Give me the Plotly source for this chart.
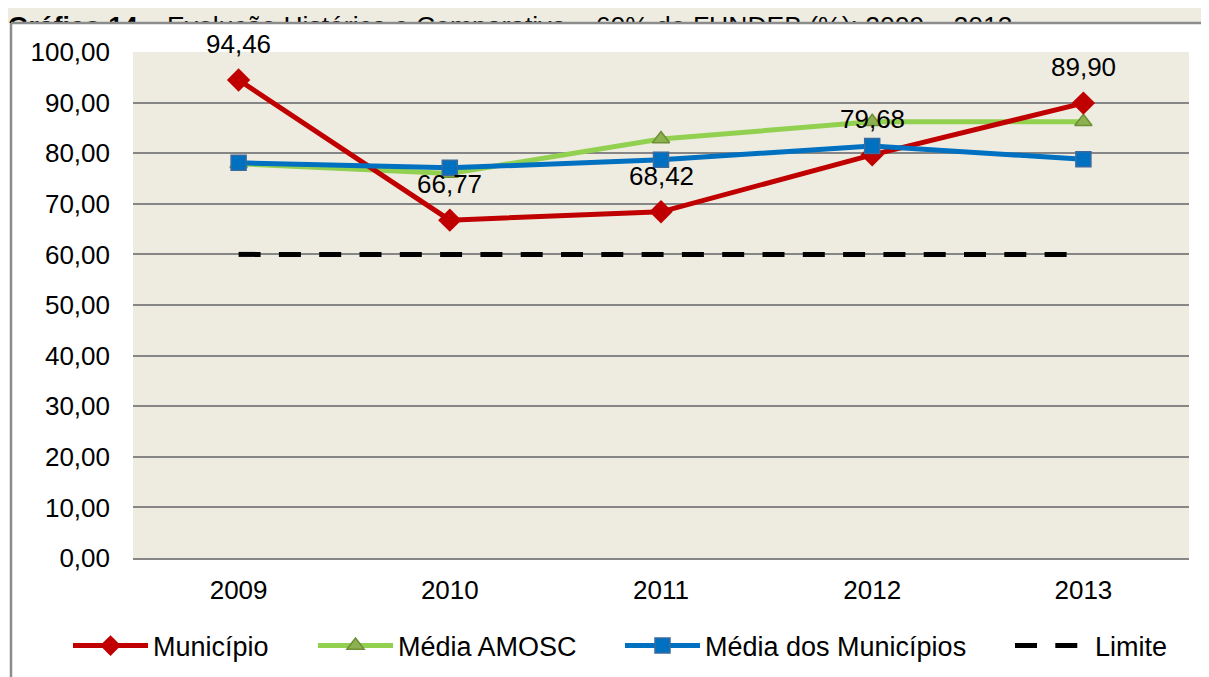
import plotly.graph_objects as go

years = ["2009", "2010", "2011", "2012", "2013"]
municipio = [94.46, 66.77, 68.42, 79.68, 89.90]
media_amosc = [77.9, 76.0, 82.8, 86.2, 86.2]
media_municipios = [78.1, 77.1, 78.7, 81.4, 78.8]
limite = [60, 60, 60, 60, 60]
y_ticks = [0, 10, 20, 30, 40, 50, 60, 70, 80, 90, 100]
caption = "<b>Gráfico 14</b> – Evolução Histórica e Comparativa – 60% do FUNDEB (%): 2009 – 2013"

FONT = "Liberation Sans, Arial, sans-serif"
W, H = 1201, 669          # page has an 8px body margin
OFF = 8


def px_x(sx):  # screen x -> paper x
    return (sx - OFF) / W


def px_y(sy):  # screen y -> paper y (paper spans screen 8..558)
    return (558 - sy) / 550


fig = go.Figure()

fig.add_trace(go.Scatter(
    x=years, y=media_amosc, name="Média AMOSC", mode="lines+markers", legend="legend2",
    line=dict(color="#92D050", width=5),
    marker=dict(symbol="triangle-up", size=15, color="#8DB050", line=dict(color="#6E8F35", width=1.5)),
))
fig.add_trace(go.Scatter(
    x=years, y=municipio, name="Município", mode="lines+markers", legend="legend",
    line=dict(color="#C00000", width=5),
    marker=dict(symbol="diamond", size=18, color="#C00000", line=dict(color="#C00000", width=0)),
))
fig.add_trace(go.Scatter(
    x=years, y=media_municipios, name="Média dos Municípios", mode="lines+markers", legend="legend3",
    line=dict(color="#0070C0", width=5),
    marker=dict(symbol="square", size=15, color="#0070C0", line=dict(color="#3A6A9E", width=1.5)),
))
fig.add_trace(go.Scatter(
    x=years, y=limite, name="Limite", mode="lines", legend="legend4",
    line=dict(color="#000000", width=5, dash="22px,18.3px"),
))

# caption strip, clipped by the chart frame below it (as in the reference)
fig.add_trace(go.Scatter(
    x=[0], y=[-5.2], mode="text", text=[caption], textposition="middle right",
    textfont=dict(family=FONT, size=26.5, color="#000000"), cliponaxis=True,
    xaxis="x2", yaxis="y2", showlegend=False, hoverinfo="skip",
))

for i, yv in enumerate(municipio):
    fig.add_annotation(
        x=i, y=yv, xref="x", yref="y", text=f"{yv:.2f}".replace(".", ","),
        showarrow=False, yshift=36, font=dict(family=FONT, size=26, color="#000000"),
    )

# outer chart frame
fig.add_shape(type="line", xref="paper", yref="paper", x0=px_x(11), x1=1.02,
              y0=px_y(23), y1=px_y(23), line=dict(color="#8C8C8C", width=2.5), layer="above")
fig.add_shape(type="line", xref="paper", yref="paper", x0=px_x(11), x1=px_x(11),
              y0=px_y(23), y1=-0.3, line=dict(color="#8C8C8C", width=2.5), layer="above")

IW = 75
leg_common = dict(orientation="h", yanchor="middle", y=px_y(646), xanchor="left",
                  font=dict(family=FONT, size=27, color="#000000"), bgcolor="rgba(0,0,0,0)",
                  borderwidth=0, itemwidth=IW)
TXT = IW + 10

fig.update_layout(
    width=W, height=H,
    margin=dict(l=0, r=0, t=0, b=119, autoexpand=False),
    paper_bgcolor="white", plot_bgcolor="#EEECE1",
    separators=",.",
    font=dict(family=FONT, size=26, color="#000000"),
    showlegend=True,
    legend=dict(x=px_x(153 - TXT), **leg_common),
    legend2=dict(x=px_x(398 - TXT), **leg_common),
    legend3=dict(x=px_x(705 - TXT), **leg_common),
    legend4=dict(x=px_x(1095 - TXT), **leg_common),
    xaxis=dict(type="category", categoryorder="array", categoryarray=years,
               domain=[px_x(133), px_x(1189)], anchor="y",
               range=[-0.5, 4.5], showgrid=False, showline=True, linecolor="#868686", linewidth=2,
               ticks="", ticklabelstandoff=8, tickfont=dict(family=FONT, size=26, color="#000000")),
    yaxis=dict(range=[0, 100], tickvals=y_ticks, tickformat=".2f", showgrid=True,
               domain=[0, px_y(52)], anchor="x",
               gridcolor="#868686", gridwidth=2, zeroline=False, showline=False, ticks="",
               ticklabelstandoff=22, tickfont=dict(family=FONT, size=26, color="#000000")),
    xaxis2=dict(domain=[0, 1], range=[0, 1], visible=False, fixedrange=True, anchor="y2"),
    yaxis2=dict(domain=[px_y(23), 1], range=[0, 15], visible=False, fixedrange=True, anchor="x2"),
)

fig.write_html("out.html")
